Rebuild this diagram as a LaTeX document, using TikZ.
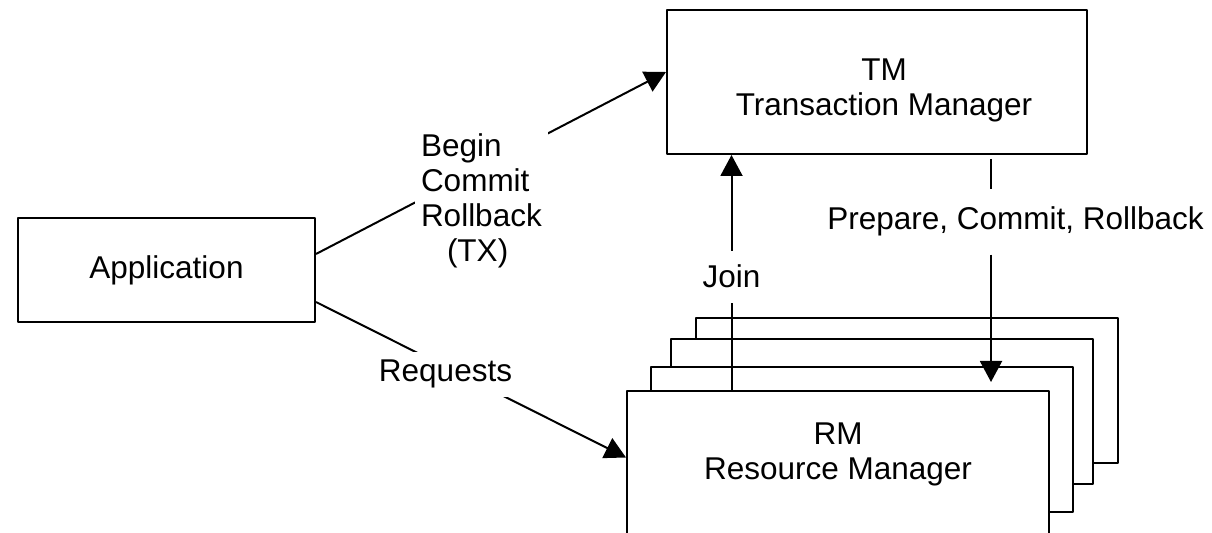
\documentclass[tikz,border=0pt]{standalone}
\usepackage{fontspec}
\setmainfont{Liberation Sans}
\usepackage{tikz}
\usetikzlibrary{arrows.meta}

\begin{document}
\begin{tikzpicture}[>={Triangle[length=21bp,width=22bp]},line join=bevel,line width=2bp,
  every node/.style={font=\fontsize{31.5bp}{35bp}\selectfont},
  box/.style={draw,fill=white,minimum width=#1},
  rmbox/.style={box=422bp,minimum height=145bp},
  lbl/.style={fill=white,inner sep=#1}]
\useasboundingbox (0bp,0bp) rectangle (1212bp,533bp);
%%
\node (node_app) at (166.5bp,263bp) [box=297bp,minimum height=104bp] {Application};
\node (node_tm) at (877bp,451bp) [box=420bp,minimum height=144bp] {};
\node (node_tm_text) at (884bp,475bp) [anchor=north,align=center,inner sep=0pt] {TM\\Transaction Manager};
\node (node_rm4) at (906.5bp,142bp) [rmbox] {};
\node (node_rm3) at (882bp,121.5bp) [rmbox] {};
\node (node_rm2) at (862bp,93.5bp) [rmbox] {};
\node (node_rm) at (838bp,69.5bp) [rmbox] {};
\node (node_rm_text) at (838bp,111bp) [anchor=north,align=center,inner sep=0pt] {RM\\Resource Manager};
\node (node_join) at (731.5bp,245bp) [anchor=base,inner sep=13.5bp] {Join};
\node (node_prep) at (1015.5bp,303bp) [anchor=base,inner sep=17bp] {Prepare, Commit, Rollback};
\coordinate (prep_top) at ([xshift=114bp]node_tm.south);
%
\draw [black,->] ([yshift=16bp]node_app.east) -- ([yshift=10bp]node_tm.west);
\draw [black,->] ([yshift=-32bp]node_app.east) -- ([yshift=6bp]node_rm.west);
\draw [black] (node_rm.north -| node_join) -- (node_join.south);
\draw [black,->] (node_join.north) -- (node_tm.south -| node_join);
\draw [black,shorten <=4bp] (prep_top) -- (prep_top |- node_prep.north);
\draw [black,->] (prep_top |- node_prep.south) -- ([yshift=8bp]prep_top |- node_rm.north);
%
\node (node_tx) at (414bp,406.2bp) [lbl=6bp,anchor=north west,align=left] {Begin\\Commit\\Rollback\\\hspace*{26bp}(TX)};
\node (node_req) at (445.5bp,151bp) [lbl=8bp,anchor=base] {Requests};
%
\end{tikzpicture}
\end{document}
